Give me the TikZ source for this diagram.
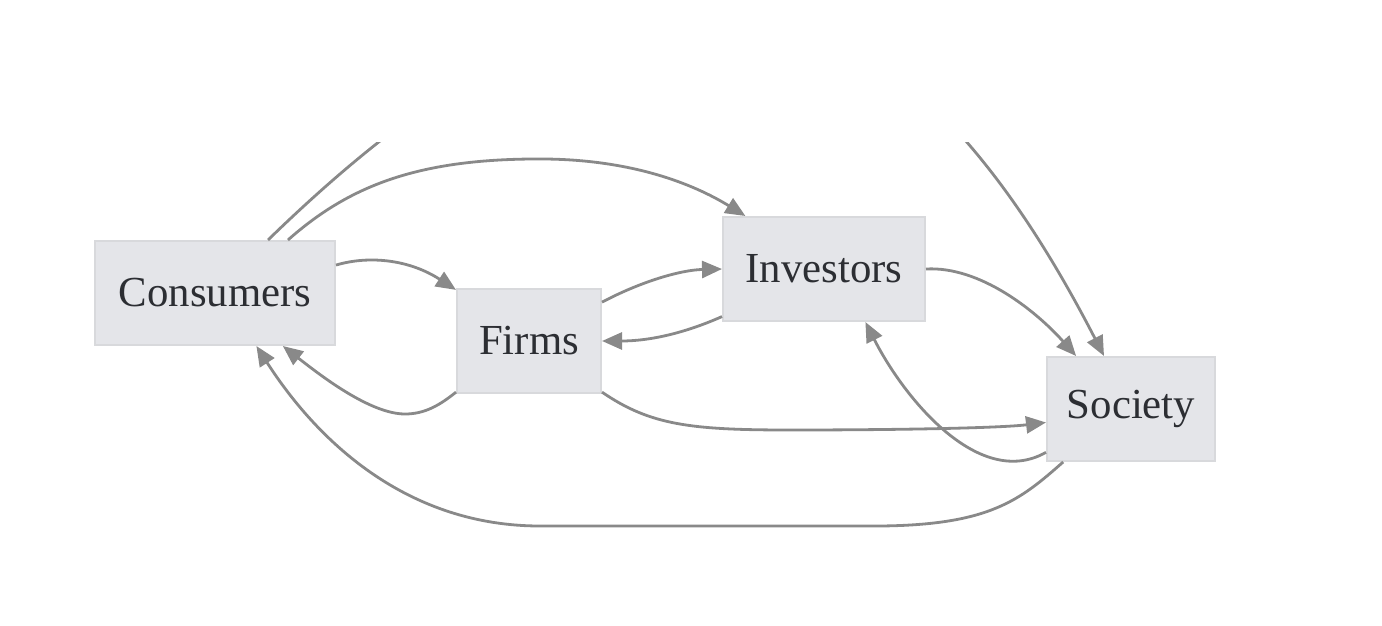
\documentclass[tikz,border=0pt]{standalone}
\usepackage{fontspec}
\setmainfont{Liberation Serif}
\usetikzlibrary{arrows.meta}
\definecolor{boxfill}{HTML}{E4E5E9}
\definecolor{boxline}{HTML}{D8D9DC}
\definecolor{txt}{HTML}{2C2E33}
\definecolor{edge}{HTML}{898989}
\tikzset{
  box/.style={draw=boxline, fill=boxfill, line width=1pt, inner sep=0pt,
    minimum height=52pt, text=txt, font=\fontsize{21.4}{25}\selectfont},
  conn/.style={draw=edge, line width=1.4pt, -{Triangle[length=10pt,width=8.5pt]}},
}
\begin{document}
\begin{tikzpicture}[x=0.5pt,y=-0.5pt]
\useasboundingbox (0,0) rectangle (1382,626);
\node[box, minimum width=120pt] (cons) at (215,293) {Consumers};
\node[box, minimum width=72pt] (firm) at (529,341) {Firms};
\node[box, minimum width=101pt] (inv) at (824,269) {Investors};
\node[box, minimum width=84pt] (soc) at (1131,409) {Society};
\begin{scope}
\clip (0,143) rectangle (1382,626);
% Consumers -> Investors
\draw[conn] (cons.36) .. controls (350,185) and (420,158) .. (545,159)
  .. controls (640,160) and (700,188) .. (inv.146);
% Consumers -> Society (over the top, clipped)
\draw[conn] (cons.45) .. controls (645,-127) and (895,-50) .. (soc.117);
% Consumers -> Firms
\draw[conn] (cons.13) .. controls (370,255) and (410,260) .. (firm.145);
% Firms -> Consumers
\draw[conn] (firm.215) .. controls (440,405) and (425,414) .. (405,414)
  .. controls (370,414) and (320,375) .. (cons.322);
% Firms -> Investors
\draw[conn] (firm.28) .. controls (640,282) and (680,270) .. (inv.180);
% Investors -> Firms
\draw[conn] (inv.205) .. controls (685,333) and (650,341) .. (firm.0);
% Investors -> Society
\draw[conn] (inv.0) .. controls (980,266) and (1036,311) .. (soc.136);
% Firms -> Society
\draw[conn] (firm.325) .. controls (650,425) and (690,430) .. (790,430)
  .. controls (900,430) and (1000,428) .. (soc.189);
% Society -> Investors
\draw[conn] (soc.207) .. controls (980,490) and (905,400) .. (inv.308);
% Society -> Consumers
\draw[conn] (soc.218) .. controls (1020,500) and (990,525) .. (880,526)
  -- (540,526) .. controls (410,526) and (320,445) .. (cons.308);
\end{scope}
\end{tikzpicture}
\end{document}
